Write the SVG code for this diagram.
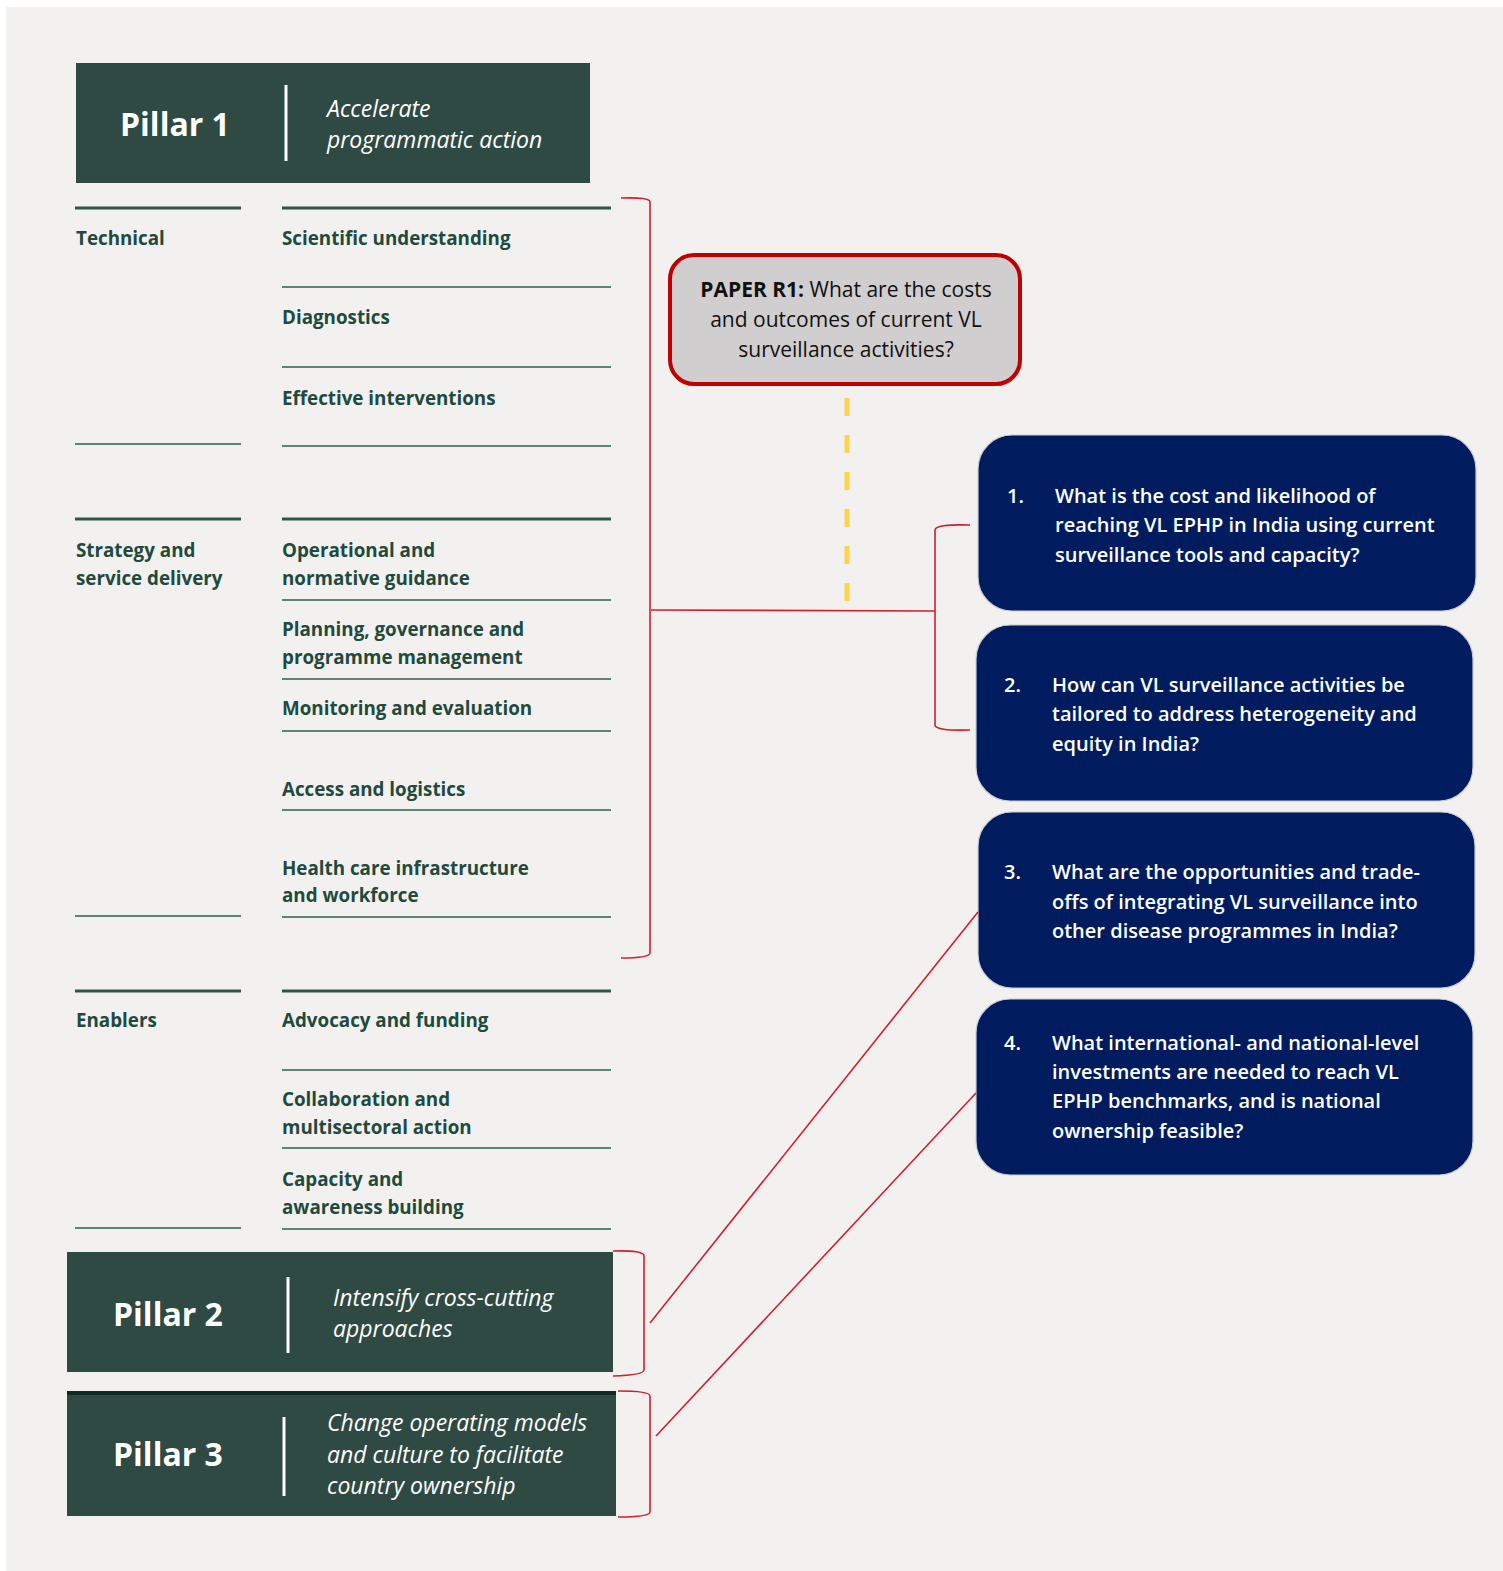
<svg xmlns="http://www.w3.org/2000/svg" width="1503" height="1571" viewBox="0 0 1503 1571">
  <defs>
    <style>
      .pillar { fill: #2f4a42; }
      .pname { font-family: "Open Sans", "Liberation Sans", sans-serif; font-weight: 700; font-size: 32px; fill: #ffffff; }
      .ptag { font-family: "Open Sans", "Liberation Sans", sans-serif; font-style: italic; font-weight: 400; font-size: 23px; fill: #ffffff; }
      .pdiv { stroke: #ffffff; stroke-width: 3; }
      .cat { font-family: "Open Sans", "Liberation Sans", sans-serif; font-weight: 700; font-size: 18.8px; fill: #1f4a3d; }
      .rule { stroke: #5d8474; stroke-width: 2; }
      .rule-top { stroke: #2e5547; stroke-width: 3; }
      .red { fill: none; stroke: #d01f2f; stroke-width: 1.6; }
      .q { fill: #001c5e; stroke: #c9ccd6; stroke-width: 1.2; }
      .qt { font-family: "Open Sans", "Liberation Sans", sans-serif; font-weight: 600; font-size: 20px; fill: #ffffff; }
      .paper { fill: #d0cecf; stroke: #c00000; stroke-width: 4; }
      .pt { font-family: "Open Sans", "Liberation Sans", sans-serif; font-size: 21px; fill: #111111; text-anchor: middle; }
    </style>
  </defs>

  <rect x="0" y="0" width="1503" height="1571" fill="#ffffff"/>
  <rect x="6" y="7" width="1497" height="1564" fill="#f2f1ef"/>

  <!-- Pillar 1 header -->
  <g id="pillar1">
    <rect class="pillar" x="76" y="63" width="514" height="120"/>
    <line class="pdiv" x1="286" y1="85" x2="286" y2="161"/>
    <text class="pname" x="120" y="136">Pillar 1</text>
    <text class="ptag" x="327" y="117">Accelerate</text>
    <text class="ptag" x="327" y="148">programmatic action</text>
  </g>

  <!-- Technical -->
  <g id="technical">
    <line class="rule-top" x1="75" y1="208" x2="241" y2="208"/>
    <line class="rule-top" x1="282" y1="208" x2="611" y2="208"/>
    <text class="cat" x="76" y="245">Technical</text>
    <text class="cat" x="282" y="245">Scientific understanding</text>
    <line class="rule" x1="282" y1="287" x2="611" y2="287"/>
    <text class="cat" x="282" y="324">Diagnostics</text>
    <line class="rule" x1="282" y1="367" x2="611" y2="367"/>
    <text class="cat" x="282" y="405">Effective interventions</text>
    <line class="rule" x1="75" y1="444" x2="241" y2="444"/>
    <line class="rule" x1="282" y1="446" x2="611" y2="446"/>
  </g>

  <!-- Strategy and service delivery -->
  <g id="strategy">
    <line class="rule-top" x1="75" y1="519" x2="241" y2="519"/>
    <line class="rule-top" x1="282" y1="519" x2="611" y2="519"/>
    <text class="cat" x="76" y="557">Strategy and</text>
    <text class="cat" x="76" y="585">service delivery</text>
    <text class="cat" x="282" y="557">Operational and</text>
    <text class="cat" x="282" y="585">normative guidance</text>
    <line class="rule" x1="282" y1="600" x2="611" y2="600"/>
    <text class="cat" x="282" y="636">Planning, governance and</text>
    <text class="cat" x="282" y="664">programme management</text>
    <line class="rule" x1="282" y1="679" x2="611" y2="679"/>
    <text class="cat" x="282" y="715">Monitoring and evaluation</text>
    <line class="rule" x1="282" y1="731" x2="611" y2="731"/>
    <text class="cat" x="282" y="796">Access and logistics</text>
    <line class="rule" x1="282" y1="810" x2="611" y2="810"/>
    <text class="cat" x="282" y="875">Health care infrastructure</text>
    <text class="cat" x="282" y="902">and workforce</text>
    <line class="rule" x1="75" y1="916" x2="241" y2="916"/>
    <line class="rule" x1="282" y1="917" x2="611" y2="917"/>
  </g>

  <!-- Enablers -->
  <g id="enablers">
    <line class="rule-top" x1="75" y1="991" x2="241" y2="991"/>
    <line class="rule-top" x1="282" y1="991" x2="611" y2="991"/>
    <text class="cat" x="76" y="1027">Enablers</text>
    <text class="cat" x="282" y="1027">Advocacy and funding</text>
    <line class="rule" x1="282" y1="1070" x2="611" y2="1070"/>
    <text class="cat" x="282" y="1106">Collaboration and</text>
    <text class="cat" x="282" y="1134">multisectoral action</text>
    <line class="rule" x1="282" y1="1148" x2="611" y2="1148"/>
    <text class="cat" x="282" y="1186">Capacity and</text>
    <text class="cat" x="282" y="1214">awareness building</text>
    <line class="rule" x1="75" y1="1228" x2="241" y2="1228"/>
    <line class="rule" x1="282" y1="1229" x2="611" y2="1229"/>
  </g>

  <!-- Pillar 2 -->
  <g id="pillar2">
    <rect class="pillar" x="67" y="1252" width="546" height="120"/>
    <line class="pdiv" x1="288" y1="1277" x2="288" y2="1353"/>
    <text class="pname" x="113" y="1326">Pillar 2</text>
    <text class="ptag" x="333" y="1306">Intensify cross-cutting</text>
    <text class="ptag" x="333" y="1337">approaches</text>
  </g>

  <!-- Pillar 3 -->
  <g id="pillar3">
    <rect class="pillar" x="67" y="1391" width="549" height="125"/>
    <rect x="67" y="1391" width="549" height="4" fill="#102a22"/>
    <line class="pdiv" x1="284" y1="1417" x2="284" y2="1496"/>
    <text class="pname" x="113" y="1466">Pillar 3</text>
    <text class="ptag" x="327" y="1431">Change operating models</text>
    <text class="ptag" x="327" y="1463">and culture to facilitate</text>
    <text class="ptag" x="327" y="1494">country ownership</text>
  </g>

  <!-- Paper R1 -->
  <g id="paper-r1">
    <rect class="paper" x="670" y="255" width="350" height="129" rx="24"/>
    <text class="pt" x="846" y="297"><tspan font-weight="700">PAPER R1:</tspan> What are the costs</text>
    <text class="pt" x="846" y="327">and outcomes of current VL</text>
    <text class="pt" x="846" y="357">surveillance activities?</text>
  </g>

  <!-- Research questions -->
  <g id="q1">
    <rect class="q" x="978" y="435" width="498" height="176" rx="34"/>
    <text class="qt" x="1007" y="503">1.</text>
    <text class="qt" x="1055" y="503">What is the cost and likelihood of</text>
    <text class="qt" x="1055" y="532">reaching VL EPHP in India using current</text>
    <text class="qt" x="1055" y="562">surveillance tools and capacity?</text>
  </g>
  <g id="q2">
    <rect class="q" x="976" y="625" width="497" height="176" rx="34"/>
    <text class="qt" x="1004" y="692">2.</text>
    <text class="qt" x="1052" y="692">How can VL surveillance activities be</text>
    <text class="qt" x="1052" y="721">tailored to address heterogeneity and</text>
    <text class="qt" x="1052" y="751">equity in India?</text>
  </g>
  <g id="q3">
    <rect class="q" x="978" y="812" width="497" height="176" rx="34"/>
    <text class="qt" x="1004" y="879">3.</text>
    <text class="qt" x="1052" y="879">What are the opportunities and trade-</text>
    <text class="qt" x="1052" y="909">offs of integrating VL surveillance into</text>
    <text class="qt" x="1052" y="938">other disease programmes in India?</text>
  </g>
  <g id="q4">
    <rect class="q" x="976" y="999" width="497" height="176" rx="34"/>
    <text class="qt" x="1004" y="1050">4.</text>
    <text class="qt" x="1052" y="1050">What international- and national-level</text>
    <text class="qt" x="1052" y="1079">investments are needed to reach VL</text>
    <text class="qt" x="1052" y="1108">EPHP benchmarks, and is national</text>
    <text class="qt" x="1052" y="1138">ownership feasible?</text>
  </g>

  <!-- Connectors -->
  <g id="connectors">
    <line x1="847" y1="398" x2="847" y2="605" stroke="#fcd34d" stroke-width="5" stroke-dasharray="18 19"/>
    <path class="red" d="M621,198 Q650,197 650,202 L650,953 Q650,958 621,958"/>
    <line class="red" x1="651" y1="610" x2="935" y2="611"/>
    <path class="red" d="M970,525 Q935,524 935,530 L935,725 Q935,731 970,730"/>
    <path class="red" d="M613,1251 Q644,1250 644,1256 L644,1370 Q644,1375 613,1376"/>
    <path class="red" d="M618,1391 Q650,1391 650,1396 L650,1512 Q650,1517 618,1517"/>
    <line class="red" x1="650" y1="1323" x2="978" y2="912"/>
    <line class="red" x1="656" y1="1436" x2="976" y2="1093"/>
  </g>
</svg>
